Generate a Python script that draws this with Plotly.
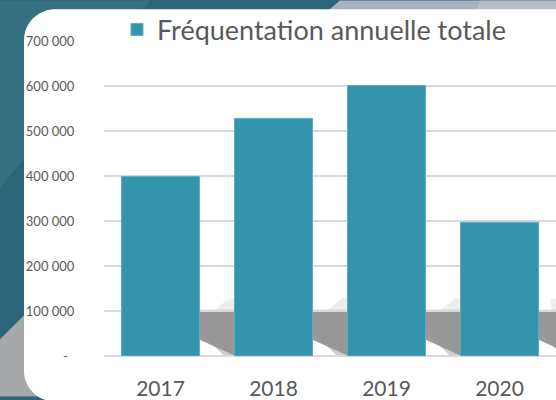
import plotly.graph_objects as go
import math

# ---- data ----
years = ["2017", "2018", "2019", "2020"]
visitors = [399000, 528000, 601000, 297000]
series_name = "Fréquentation annuelle totale"
y_tickvals = [0, 100000, 200000, 300000, 400000, 500000, 600000, 700000]
y_ticktext = ["-\u00a0\u00a0", "100 000", "200 000", "300 000", "400 000",
              "500 000", "600 000", "700 000"]

# ---- layout geometry (pixels) ----
W, H = 556, 400
L, R, T, B = 104, 556, 41, 359
PW, PH = R - L, B - T


def px(xp):
    return (xp - L) / PW


def py(yp):
    return (B - yp) / PH


def poly_path(pts):
    s = "M " + " L ".join(f"{px(a):.5f},{py(b):.5f}" for a, b in pts) + " Z"
    return s


def rounded_rect(x0, y0, x1, y1, r, n=12):
    pts = []
    corners = [(x1 - r, y0 + r, -90, 0), (x1 - r, y1 - r, 0, 90),
               (x0 + r, y1 - r, 90, 180), (x0 + r, y0 + r, 180, 270)]
    for cx, cy, a0, a1 in corners:
        for k in range(n + 1):
            a = math.radians(a0 + (a1 - a0) * k / n)
            pts.append((cx + r * math.cos(a), cy + r * math.sin(a)))
    return poly_path(pts)


shapes = []
# background decorations
shapes.append(dict(type="path", xref="paper", yref="paper", layer="below",
                   path=poly_path([(0, 0), (150, 0), (0, 190)]),
                   fillcolor="#3f7b88", opacity=0.5, line=dict(width=0)))
shapes.append(dict(type="path", xref="paper", yref="paper", layer="below",
                   path=poly_path([(340, 0), (556, 0), (556, 30), (305, 30)]),
                   fillcolor="#a9b0be", line=dict(width=0)))
shapes.append(dict(type="path", xref="paper", yref="paper", layer="below",
                   path=poly_path([(480, 0), (556, 0), (556, 30), (470, 30)]),
                   fillcolor="#c4c8d0", opacity=0.6, line=dict(width=0)))
shapes.append(dict(type="path", xref="paper", yref="paper", layer="below",
                   path=poly_path([(0, 342), (40, 302), (40, 400), (0, 400)]),
                   fillcolor="#a7a8aa", line=dict(width=0)))
# white panel
shapes.append(dict(type="path", xref="paper", yref="paper", layer="below",
                   path=rounded_rect(24, 9, 586, 405, 31),
                   fillcolor="#ffffff", line=dict(width=0)))

# soft cast shadows to the right of each bar (data coordinates)
bw = 0.69
for i in range(len(years)):
    xr = i + bw / 2
    xn = min(i + 1 - bw / 2, len(years) - 0.5)
    # faint halo above the shadow near the next bar
    shapes.append(dict(type="path", xref="x", yref="y", layer="below",
                       path=(f"M {xr + 0.12},100000 L {xn},100000 "
                             f"L {xn},128000 L {xn - 0.05},128000 Z"),
                       fillcolor="#cfcfcf", opacity=0.35, line=dict(width=0)))
    # outer soft layer
    shapes.append(dict(type="path", xref="x", yref="y", layer="below",
                       path=(f"M {xr},103000 L {xn},103000 L {xn},0 "
                             f"L {xr + 0.22},0 L {xr},52000 Z"),
                       fillcolor="#b8b8b8", opacity=0.7, line=dict(width=0)))
    # core shadow
    shapes.append(dict(type="path", xref="x", yref="y", layer="below",
                       path=(f"M {xr},99000 L {xn},99000 L {xn},0 "
                             f"L {xr + 0.32},0 L {xr},36000 Z"),
                       fillcolor="#919191", opacity=0.9, line=dict(width=0)))

fig = go.Figure()
fig.add_trace(go.Bar(
    x=years, y=visitors, name=series_name, showlegend=True,
    marker=dict(color="#3594ad", line=dict(color="#5aaec2", width=1)),
    hoverinfo="x+y",
))

fig.update_layout(
    width=W, height=H,
    margin=dict(l=L, r=W - R, t=T, b=H - B, pad=0),
    paper_bgcolor="#2b6678",
    plot_bgcolor="rgba(0,0,0,0)",
    bargap=1 - bw,
    font=dict(family="Lato, 'Open Sans', sans-serif", color="#595959"),
    shapes=shapes,
    showlegend=True,
    legend=dict(
        orientation="h", x=px(117), xanchor="left", y=py(5), yanchor="top",
        bgcolor="rgba(0,0,0,0)", font=dict(size=27, color="#595959"),
    ),
    xaxis=dict(
        showgrid=False, showline=False, zeroline=False,
        ticks="outside", ticklen=14, tickcolor="rgba(0,0,0,0)",
        tickfont=dict(size=21, color="#595959"),
        range=[-0.5, len(years) - 0.5],
    ),
    yaxis=dict(
        range=[0, 700000], tickvals=y_tickvals, ticktext=y_ticktext,
        showgrid=True, gridcolor="#d9d9d9", gridwidth=2,
        zeroline=True, zerolinecolor="#d9d9d9", zerolinewidth=2,
        showline=False,
        ticks="outside", ticklen=26, tickcolor="rgba(0,0,0,0)",
        tickfont=dict(size=13, color="#595959"),
    ),
)

fig.write_html("out.html", config={"displayModeBar": False},
               post_script="document.body.style.margin='0';")
